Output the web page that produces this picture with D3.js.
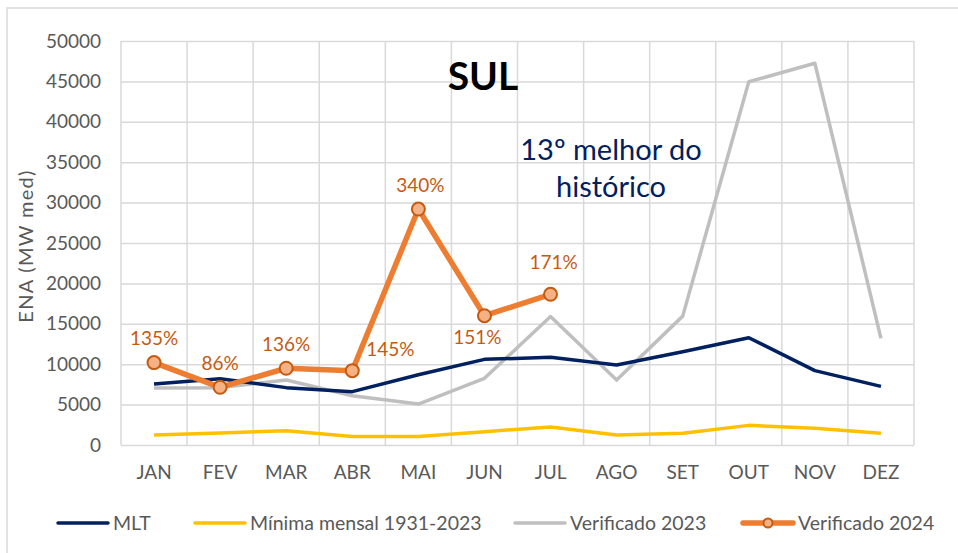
<!DOCTYPE html>
<html lang="pt">
<head>
<meta charset="UTF-8">
<title>SUL - ENA</title>
<script src="https://cdn.jsdelivr.net/npm/d3@7"></script>
<style>
html,body {margin:0;padding:0;background:#fff;}
svg text {font-family:Lato, "Open Sans", sans-serif;}
</style>
</head>
<body>
<div id="chart"></div>
<script>
// dados
const months = ['JAN','FEV','MAR','ABR','MAI','JUN','JUL','AGO','SET','OUT','NOV','DEZ'];
const mlt = [7550, 8200, 7100, 6600, 8700, 10600, 10850, 9900, 11550, 13280, 9200, 7250];
const minima = [1240, 1500, 1770, 1050, 1050, 1650, 2230, 1240, 1450, 2430, 2060, 1450];
const ver2023 = [7050, 7100, 8040, 6100, 5070, 8250, 15900, 8040, 15950, 44950, 47250, 13200];
const ver2024 = [10200, 7140, 9500, 9200, 29200, 16000, 18650];
const pctLabels = ['135%', '86%', '136%', '145%', '340%', '151%', '171%'];
const yTicks = [0, 5000, 10000, 15000, 20000, 25000, 30000, 35000, 40000, 45000, 50000];

const W = 958, H = 553;
const pLeft = 121, pRight = 914, pTop = 41, pBottom = 445;

const svg = d3.select('#chart').append('svg').attr('width', W).attr('height', H);

// moldura
svg.append('rect').attr('x', 7).attr('y', 8).attr('width', 960).attr('height', 560)
	.attr('fill', 'none').attr('stroke', '#d9d9d9').attr('stroke-width', 1.5);

const x = d3.scaleBand().domain(months).range([pLeft, pRight]);
const y = d3.scaleLinear().domain([0, 50000]).range([pBottom, pTop]);
const cx = m => x(m) + x.bandwidth() / 2;

// grade
const gY = svg.append('g').attr('transform', 'translate(' + pLeft + ',0)')
	.call(d3.axisLeft(y).tickValues(yTicks).tickSize(-(pRight - pLeft)).tickPadding(20).tickFormat(d3.format('d')));
gY.select('.domain').remove();
gY.selectAll('line').attr('stroke', '#d9d9d9').attr('stroke-width', 1.5);
gY.selectAll('text').attr('fill', '#595959').style('font-size', '19px');

const bounds = months.map(m => x(m)).concat([pRight]);
svg.append('g').selectAll('line').data(bounds).join('line')
	.attr('x1', d => d).attr('x2', d => d).attr('y1', pTop).attr('y2', pBottom)
	.attr('stroke', '#d9d9d9').attr('stroke-width', 1.5);

const gX = svg.append('g').attr('transform', 'translate(0,' + pBottom + ')')
	.call(d3.axisBottom(x).tickSize(0).tickPadding(21));
gX.select('.domain').remove();
gX.selectAll('text').attr('fill', '#595959').style('font-size', '19px');

// titulo eixo y
svg.append('text').attr('transform', 'translate(33,246) rotate(-90)')
	.attr('text-anchor', 'middle').attr('fill', '#595959').style('font-size', '20px')
	.style('letter-spacing', '1.3px')
	.text('ENA (MW med)');

const line = d3.line().x((d, i) => cx(months[i])).y(d => y(d));

const series = [
	{data: ver2023, color: '#bfbfbf', w: 3.5},
	{data: minima, color: '#ffc000', w: 3.5},
	{data: mlt, color: '#002060', w: 3.5},
	{data: ver2024, color: '#ed7d31', w: 5.5}
];
series.forEach(s => {
	svg.append('path').datum(s.data).attr('d', line)
		.attr('fill', 'none').attr('stroke', s.color).attr('stroke-width', s.w)
		.attr('stroke-linejoin', 'round');
});

svg.append('g').selectAll('circle').data(ver2024).join('circle')
	.attr('cx', (d, i) => cx(months[i])).attr('cy', d => y(d)).attr('r', 6.5)
	.attr('fill', '#f4b183').attr('stroke', '#c55a11').attr('stroke-width', 2);

// rotulos %
const offs = [[0, -24], [0, -24], [0, -24], [38, -21], [2, -24], [-7, 22], [3, -32]];
svg.append('g').selectAll('text').data(ver2024).join('text')
	.attr('x', (d, i) => cx(months[i]) + offs[i][0])
	.attr('y', (d, i) => y(d) + offs[i][1])
	.attr('dy', '0.35em').attr('text-anchor', 'middle')
	.attr('fill', '#c55a11').style('font-size', '19px')
	.text((d, i) => pctLabels[i]);

// titulo
svg.append('text').attr('x', 483).attr('y', 90).attr('text-anchor', 'middle')
	.style('font-size', '39px').style('font-weight', 'bold').attr('fill', '#000').text('SUL');

const note = svg.append('text').attr('text-anchor', 'middle')
	.attr('fill', '#002060').style('font-size', '29px');
note.append('tspan').attr('x', 611).attr('y', 160).text('13º melhor do');
note.append('tspan').attr('x', 611).attr('y', 197).text('histórico');

// legenda
const legend = [
	{name: 'MLT', color: '#002060', x: 58, w: 3.5},
	{name: 'Mínima mensal 1931-2023', color: '#ffc000', x: 195, w: 3.5},
	{name: 'Verificado 2023', color: '#bfbfbf', x: 515, w: 3.5},
	{name: 'Verificado 2024', color: '#ed7d31', x: 743, w: 5.5, marker: true}
];
const lg = svg.append('g').selectAll('g').data(legend).join('g')
	.attr('transform', d => 'translate(' + d.x + ',523)');
lg.append('line').attr('x1', 0).attr('x2', 50).attr('stroke', d => d.color)
	.attr('stroke-width', d => d.w).attr('stroke-linecap', 'round');
lg.filter(d => d.marker).append('circle').attr('cx', 25).attr('r', 4.5)
	.attr('fill', '#f4b183').attr('stroke', '#c55a11').attr('stroke-width', 2);
lg.append('text').attr('x', 55).attr('dy', '0.35em').attr('fill', '#595959')
	.style('font-size', '19.5px').text(d => d.name);
</script>
</body>
</html>
